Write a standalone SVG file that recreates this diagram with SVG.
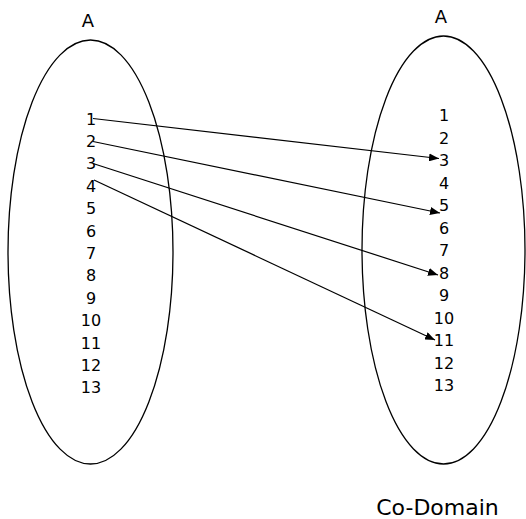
<svg xmlns="http://www.w3.org/2000/svg" width="526" height="519" viewBox="0 0 526 519">
<style>
.set{fill:none;stroke:#000;stroke-width:1.3}
.num{font-family:"DejaVu Sans",Verdana,sans-serif;font-size:16px;fill:#000;text-anchor:middle}
.lbl{font-family:"DejaVu Sans",Verdana,sans-serif;font-size:18px;fill:#000;text-anchor:middle}
.edge{stroke:#000;stroke-width:1.2;fill:none;marker-end:url(#ah)}
</style>
<defs>
<marker id="ah" viewBox="0 0 10 8" refX="10" refY="4" markerWidth="10" markerHeight="8" markerUnits="userSpaceOnUse" orient="auto">
<path d="M0,0 L10,4 L0,8 Z" fill="#000"/>
</marker>
</defs>
<rect width="526" height="519" fill="#fff"/>
<g id="domain">
<ellipse class="set" cx="90.5" cy="252" rx="82.5" ry="212"/>
<text class="lbl" x="88" y="27">A</text>
<text class="num" x="91" y="124.5">1</text>
<text class="num" x="91" y="146.9">2</text>
<text class="num" x="91" y="169.3">3</text>
<text class="num" x="91" y="191.7">4</text>
<text class="num" x="91" y="214.1">5</text>
<text class="num" x="91" y="236.5">6</text>
<text class="num" x="91" y="258.9">7</text>
<text class="num" x="91" y="281.3">8</text>
<text class="num" x="91" y="303.7">9</text>
<text class="num" x="91" y="326.1">10</text>
<text class="num" x="91" y="348.5">11</text>
<text class="num" x="91" y="370.9">12</text>
<text class="num" x="91" y="393.3">13</text>
</g>
<g id="codomain">
<ellipse class="set" cx="443.5" cy="250" rx="81.5" ry="214"/>
<text class="lbl" x="441" y="23">A</text>
<text class="num" x="444" y="121">1</text>
<text class="num" x="444" y="143.5">2</text>
<text class="num" x="444" y="166">3</text>
<text class="num" x="444" y="188.5">4</text>
<text class="num" x="444" y="211">5</text>
<text class="num" x="444" y="233.5">6</text>
<text class="num" x="444" y="256">7</text>
<text class="num" x="444" y="278.5">8</text>
<text class="num" x="444" y="301">9</text>
<text class="num" x="444" y="323.5">10</text>
<text class="num" x="444" y="346">11</text>
<text class="num" x="444" y="368.5">12</text>
<text class="num" x="444" y="391">13</text>
<text class="lbl" x="437.5" y="515" style="font-size:22px">Co-Domain</text>
</g>
<g id="connectors">
<line class="edge" x1="93" y1="118.5" x2="439" y2="158.5"/>
<line class="edge" x1="93" y1="141.5" x2="440" y2="213"/>
<line class="edge" x1="93" y1="163.5" x2="438" y2="275"/>
<line class="edge" x1="94" y1="180" x2="435" y2="340"/>
</g>
</svg>
